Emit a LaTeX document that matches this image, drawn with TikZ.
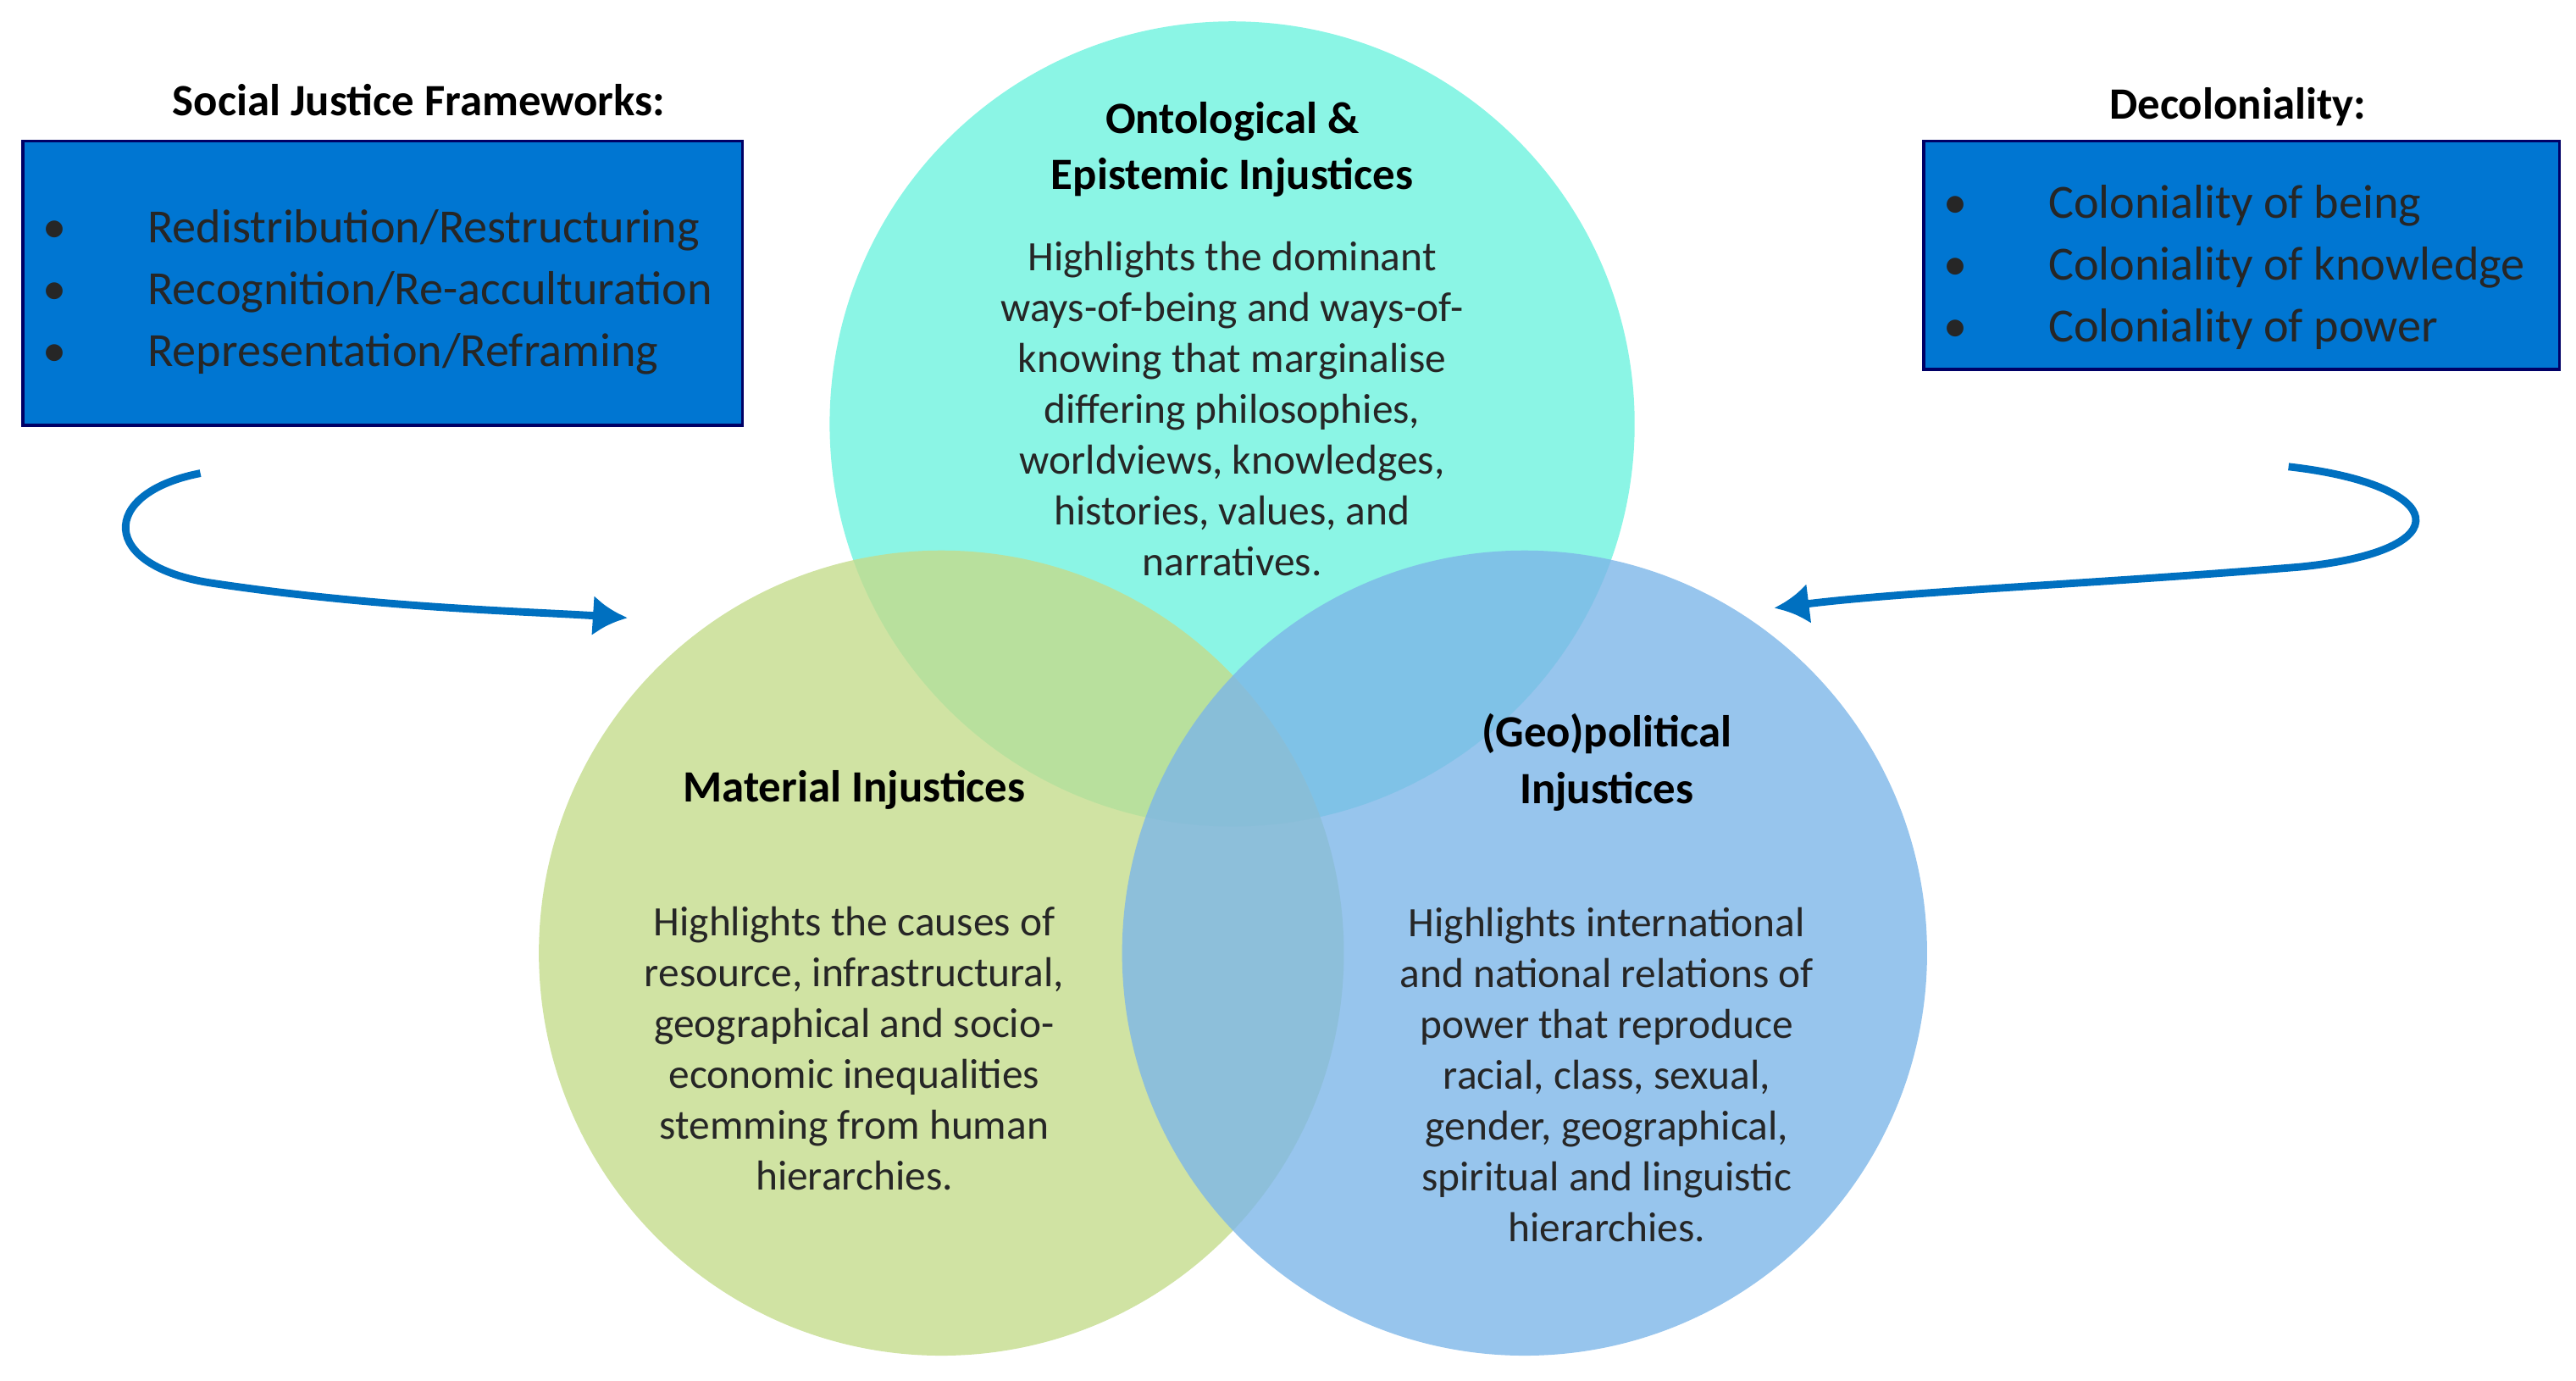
\documentclass[tikz,border=0pt]{standalone}
\usepackage{fontspec}
\setmainfont{Carlito}
\begin{document}
\begin{tikzpicture}[x=0.02cm,y=-0.02cm,
  circ/.style={circle,minimum size=490*0.02cm,inner sep=0pt,fill opacity=0.8,draw=none},
  box/.style={draw=black!60!blue,line width=1pt,fill=boxblue,anchor=north west,inner sep=0pt},
  body/.style={align=center,font=\fontsize{14.5}{17.6}\selectfont,text=black!85},
  ttl/.style={align=center,font=\fontsize{15.5}{19.5}\selectfont\bfseries,text=black},
  bl/.style={anchor=north west,align=left,font=\fontsize{16.5}{21.5}\selectfont,text=black!85},
  arr/.style={draw=arrblue,line width=2.6pt,-{Latex[length=12pt,width=14pt]}}]
\usetikzlibrary{arrows.meta}
\definecolor{boxblue}{RGB}{0,118,210}
\definecolor{arrblue}{RGB}{0,112,192}
\definecolor{ctop}{RGB}{110,243,222}
\definecolor{cleft}{RGB}{196,220,140}
\definecolor{cright}{RGB}{125,182,232}
\useasboundingbox (0,0) rectangle (1568,840);
\node[circ,fill=ctop] (top) at (750,258) {};
\node[circ,fill=cleft] (left) at (573,580) {};
\node[circ,fill=cright] (right) at (928,580) {};
\node[ttl] (t1) at (750,91) {Ontological \&\\Epistemic Injustices};
\node[body] (b1) at (750,249) {Highlights the dominant\\ways-of-being and ways-of-\\knowing that marginalise\\differing philosophies,\\worldviews, knowledges,\\histories, values, and\\narratives.};
\node[ttl] (t2) at (520,481) {Material Injustices};
\node[body] (b2) at (520,638) {Highlights the causes of\\resource, infrastructural,\\geographical and socio-\\economic inequalities\\stemming from human\\hierarchies.};
\node[ttl] (t3) at (978,464) {(Geo)political\\Injustices};
\node[body] (b3) at (978,654) {Highlights international\\and national relations of\\power that reproduce\\racial, class, sexual,\\gender, geographical,\\spiritual and linguistic\\hierarchies.};
\node[box,minimum width=438*0.02cm,minimum height=173*0.02cm] (lb) at (13,85) {};
\node[box,minimum width=387*0.02cm,minimum height=139*0.02cm] (rb) at (1170,85) {};
\node[ttl] (lh) at (255,61) {Social Justice Frameworks:};
\node[ttl] (rh) at (1362,65) {Decoloniality:};
\node[bl] (lt) at (20,115) {\begin{tabular}{@{}l@{\hspace{28pt}}l@{}}\textbullet&Redistribution/Restructuring\\\textbullet&Recognition/Re-acculturation\\\textbullet&Representation/Reframing\end{tabular}};
\node[bl] (rt) at (1177,100) {\begin{tabular}{@{}l@{\hspace{28pt}}l@{}}\textbullet&Coloniality of being\\\textbullet&Coloniality of knowledge\\\textbullet&Coloniality of power\end{tabular}};
\coordinate (la) at (122,288);
\coordinate (lz) at (382,376);
\coordinate (ra) at (1393,284);
\coordinate (rz) at (1080,370);
\draw[arr] (la) .. controls (60,300) and (60,345) .. (130,355) .. controls (230,370) and (320,372) .. (lz);
\draw[arr] (ra) .. controls (1490,295) and (1500,335) .. (1400,345) .. controls (1280,355) and (1160,360) .. (rz);
\end{tikzpicture}
\end{document}
